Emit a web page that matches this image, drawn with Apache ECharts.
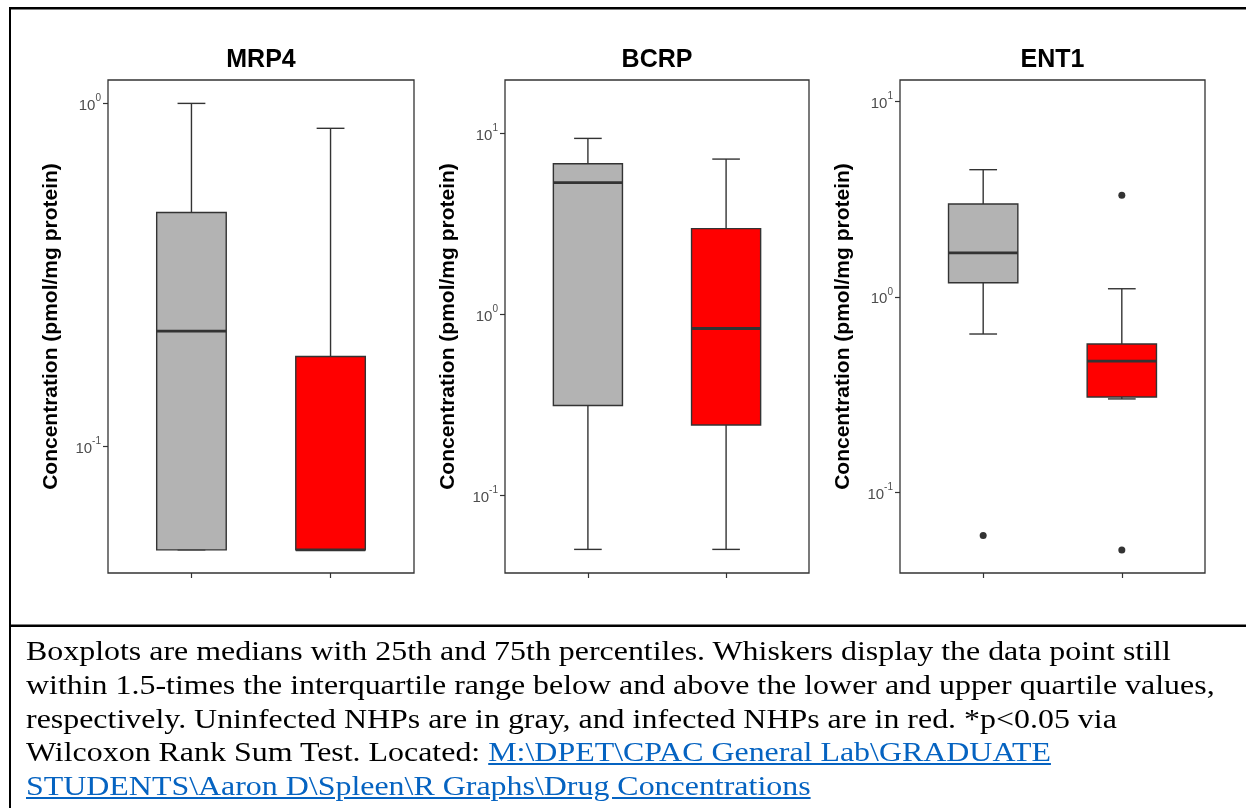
<!DOCTYPE html>
<html>
<head>
<meta charset="utf-8">
<script src="https://cdn.jsdelivr.net/npm/echarts@6/dist/echarts.min.js"></script>
<style>
html,body{margin:0;padding:0;background:#fff;}
#wrap{position:relative;width:1246px;height:808px;overflow:hidden;background:#fff;}
#chart{position:absolute;left:0;top:0;width:1246px;height:808px;}
#caption{position:absolute;left:26px;top:634px;font-family:'Liberation Serif','Times New Roman',serif;font-size:28px;line-height:33.8px;color:#000;white-space:nowrap;transform-origin:0 0;transform:scaleX(1.14);}
#caption a{color:#0563C1;text-decoration:underline;}
</style>
</head>
<body>
<div id="wrap">
<div id="chart"></div>
<div id="caption">Boxplots are medians with 25th and 75th percentiles. Whiskers display the data point still<br>within 1.5-times the interquartile range below and above the lower and upper quartile values,<br>respectively. Uninfected NHPs are in gray, and infected NHPs are in red. *p&lt;0.05 via<br>Wilcoxon Rank Sum Test. Located: <a href="#">M:\DPET\CPAC General Lab\GRADUATE<br>STUDENTS\Aaron D\Spleen\R Graphs\Drug Concentrations</a></div>
</div>
<script>
// ---- data ----
const panelTitles = ['MRP4', 'BCRP', 'ENT1'];
const groups = ['Uninfected', 'Infected'];
const yAxisTitle = 'Concentration (pmol/mg protein)';
// box statistics: [lower whisker, Q1, median, Q3, upper whisker]
const mrp4Uninfected = [0.05, 0.05, 0.217, 0.481, 1.0];
const mrp4Infected = [0.05, 0.05, 0.05, 0.183, 0.846];
const bcrpUninfected = [0.0505, 0.315, 5.36, 6.82, 9.42];
const bcrpInfected = [0.0505, 0.246, 0.839, 2.99, 7.24];
const ent1Uninfected = [0.645, 1.18, 1.68, 2.99, 4.48];
const ent1Infected = [0.300, 0.307, 0.469, 0.573, 1.10];
// outliers
const mrp4UninfectedOutliers = [];
const mrp4InfectedOutliers = [];
const bcrpUninfectedOutliers = [];
const bcrpInfectedOutliers = [];
const ent1UninfectedOutliers = [0.060];
const ent1InfectedOutliers = [3.31, 0.0505];
// y axis ranges (raw concentration) and tick exponents (10^n)
const mrp4AxisRange = [0.0428, 1.17];
const bcrpAxisRange = [0.0374, 19.8];
const ent1AxisRange = [0.0385, 12.9];
const mrp4TickExponents = [-1, 0];
const bcrpTickExponents = [-1, 0, 1];
const ent1TickExponents = [-1, 0, 1];

// ---- styling / layout ----
const groupFills = ['#B3B3B3', '#FF0000'];
const ink = '#333333';
const gridRects = [
  {left: 108, top: 80, width: 306, height: 493},
  {left: 505, top: 80, width: 304, height: 493},
  {left: 900, top: 80, width: 305, height: 493}
];
const panels = [
  {stats: [mrp4Uninfected, mrp4Infected], outliers: [mrp4UninfectedOutliers, mrp4InfectedOutliers], range: mrp4AxisRange, ticks: mrp4TickExponents},
  {stats: [bcrpUninfected, bcrpInfected], outliers: [bcrpUninfectedOutliers, bcrpInfectedOutliers], range: bcrpAxisRange, ticks: bcrpTickExponents},
  {stats: [ent1Uninfected, ent1Infected], outliers: [ent1UninfectedOutliers, ent1InfectedOutliers], range: ent1AxisRange, ticks: ent1TickExponents}
];
const lg = Math.log10;

function renderBox(params, api) {
  const x = api.value(0);
  const lw = api.value(1), q1 = api.value(2), med = api.value(3), q3 = api.value(4), hw = api.value(5);
  const fill = groupFills[params.dataIndex];
  const line = (a, b, w) => ({type: 'line', shape: {x1: a[0], y1: a[1], x2: b[0], y2: b[1]}, style: {stroke: ink, lineWidth: w}});
  const tl = api.coord([x - 0.25, q3]);
  const br = api.coord([x + 0.25, q1]);
  return {type: 'group', children: [
    line(api.coord([x, q3]), api.coord([x, hw]), 1.4),
    line(api.coord([x, q1]), api.coord([x, lw]), 1.4),
    line(api.coord([x - 0.1, hw]), api.coord([x + 0.1, hw]), 1.4),
    line(api.coord([x - 0.1, lw]), api.coord([x + 0.1, lw]), 1.4),
    {type: 'rect', shape: {x: tl[0], y: tl[1], width: br[0] - tl[0], height: br[1] - tl[1]}, style: {fill: fill, stroke: ink, lineWidth: 1.4}},
    line(api.coord([x - 0.25, med]), api.coord([x + 0.25, med]), 2.8)
  ]};
}

const option = {
  animation: false,
  backgroundColor: '#fff',
  textStyle: {fontFamily: 'Liberation Sans, Arial, sans-serif'},
  title: panelTitles.map((t, i) => ({
    text: t, left: gridRects[i].left + gridRects[i].width / 2, top: 48, textAlign: 'center', padding: 0,
    textStyle: {fontSize: 25, fontWeight: 'bold', color: '#000', fontFamily: 'Liberation Sans, Arial, sans-serif'}
  })),
  grid: gridRects.map(r => Object.assign({show: true, borderColor: ink, borderWidth: 1.3, backgroundColor: 'transparent', containLabel: false}, r)),
  xAxis: panels.map((p, i) => ({
    type: 'value', gridIndex: i, min: 0.4, max: 2.6, position: 'bottom',
    axisLine: {show: false, onZero: false}, splitLine: {show: false}, axisLabel: {show: false},
    axisTick: {show: true, customValues: [1, 2], length: 5, lineStyle: {color: ink, width: 1.2}}
  })),
  yAxis: panels.map((p, i) => ({
    type: 'value', gridIndex: i, min: lg(p.range[0]), max: lg(p.range[1]), position: 'left',
    name: yAxisTitle, nameLocation: 'middle', nameGap: 46,
    nameTextStyle: {fontSize: 21, fontWeight: 'bold', color: '#000', fontFamily: 'Liberation Sans, Arial, sans-serif'},
    axisLine: {show: false, onZero: false}, splitLine: {show: false},
    axisTick: {show: true, customValues: p.ticks, length: 5, lineStyle: {color: ink, width: 1.2}},
    axisLabel: {
      customValues: p.ticks, margin: 7,
      formatter: v => '{b|10}{s|' + v + '}',
      rich: {
        b: {fontSize: 15, color: '#4D4D4D', lineHeight: 20, verticalAlign: 'bottom', fontFamily: 'Liberation Sans, Arial, sans-serif'},
        s: {fontSize: 10, color: '#4D4D4D', lineHeight: 11, verticalAlign: 'top', fontFamily: 'Liberation Sans, Arial, sans-serif'}
      }
    }
  })),
  series: [].concat(
    panels.map((p, i) => ({
      type: 'custom', xAxisIndex: i, yAxisIndex: i, renderItem: renderBox,
      encode: {x: 0, y: [1, 2, 3, 4, 5]},
      data: p.stats.map((s, g) => ({name: groups[g], value: [g + 1].concat(s.map(lg))}))
    })),
    panels.map((p, i) => ({
      type: 'scatter', xAxisIndex: i, yAxisIndex: i, symbolSize: 7,
      itemStyle: {color: ink, opacity: 1},
      data: [].concat(...p.outliers.map((arr, g) => arr.map(v => [g + 1, lg(v)])))
    }))
  ),
  graphic: [
    {type: 'rect', shape: {x: 9, y: 7, width: 1237, height: 2.5}, style: {fill: '#000'}},
    {type: 'rect', shape: {x: 9, y: 7, width: 2, height: 801}, style: {fill: '#000'}},
    {type: 'rect', shape: {x: 9, y: 624.5, width: 1237, height: 2.5}, style: {fill: '#000'}}
  ]
};
const chart = echarts.init(document.getElementById('chart'), null, {renderer: 'canvas'});
chart.setOption(option);
</script>
</body>
</html>
